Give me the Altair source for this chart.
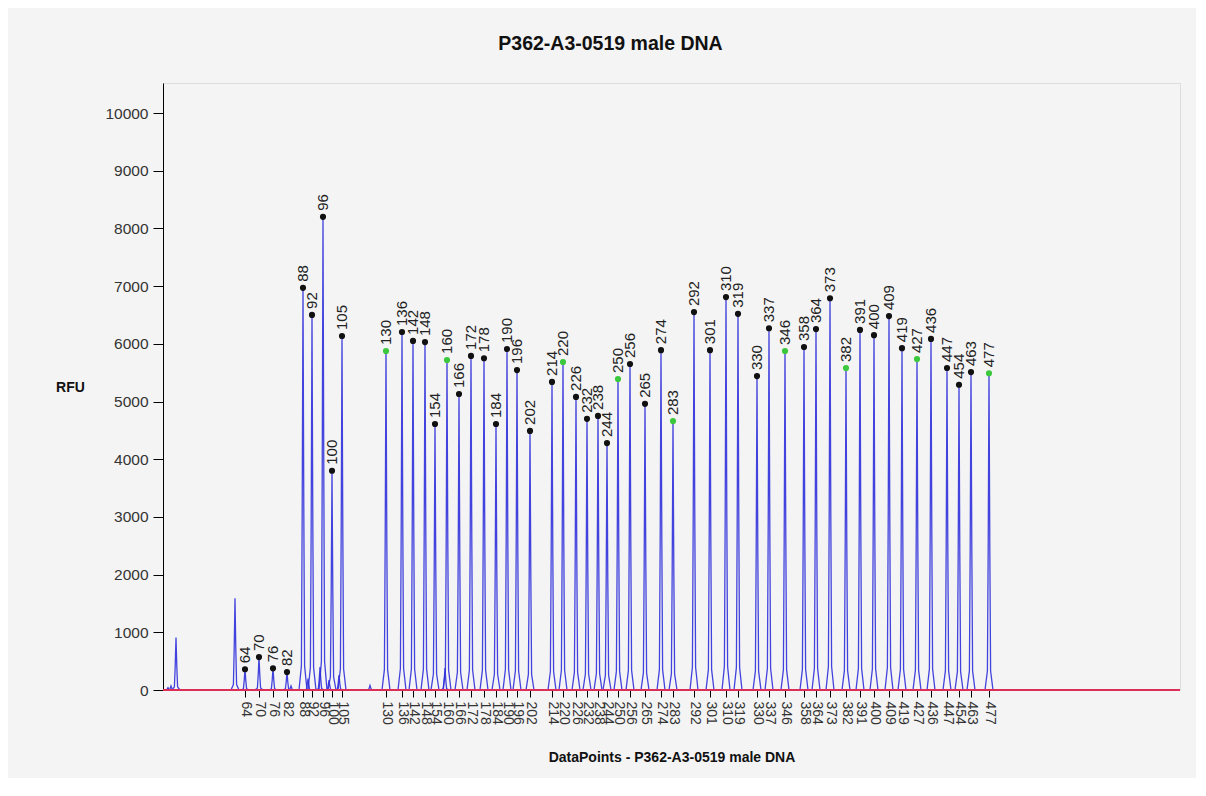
import altair as alt
import pandas as pd

# ---- data ----
sizes = [64, 70, 76, 82, 88, 92, 96, 100, 105, 130, 136, 142, 148, 154, 160, 166, 172, 178,
         184, 190, 196, 202, 214, 220, 226, 232, 238, 244, 250, 256, 265, 274, 283, 292,
         301, 310, 319, 330, 337, 346, 358, 364, 373, 382, 391, 400, 409, 419, 427, 436,
         447, 454, 463, 477]
peak_dp = [820, 960, 1100, 1240, 1400, 1490, 1600, 1690, 1790, 2230, 2390, 2500, 2620, 2720,
           2840, 2960, 3080, 3210, 3330, 3440, 3540, 3670, 3890, 4000, 4130, 4240, 4350, 4440,
           4550, 4670, 4820, 4980, 5100, 5310, 5470, 5630, 5750, 5940, 6060, 6220, 6410, 6530,
           6670, 6830, 6970, 7110, 7260, 7390, 7540, 7680, 7840, 7960, 8080, 8260]
peak_rfu = [360, 570, 375, 310, 6970, 6500, 8200, 3800, 6135, 5875, 6205, 6050, 6030, 4610,
            5720, 5130, 5790, 5750, 4610, 5910, 5545, 4490, 5340, 5685, 5080, 4700, 4750, 4280,
            5390, 5650, 4960, 5890, 4660, 6550, 5890, 6810, 6520, 5440, 6270, 5875, 5945, 6255,
            6790, 5580, 6240, 6150, 6480, 5925, 5735, 6085, 5580, 5290, 5510, 5490]
green_sizes = [130, 160, 220, 250, 283, 346, 382, 427, 477]

# unlabelled minor peaks of the trace
minor_dp = [50, 80, 130, 720, 1280, 1450, 1570, 1660, 1760, 2070, 2820]
minor_rfu = [40, 70, 910, 1590, 70, 200, 400, 170, 260, 80, 380]

# shape of one peak (offset in data points, fraction of apex height)
profile_dx = [-40, -16, -8, 0, 8, 16, 40]
profile_frac = [0, 0.06, 0.45, 1, 0.45, 0.06, 0]

x_max = 10170
y_max = 10520
y_ticks = list(range(0, 10001, 1000))

# ---- tables ----
rows = []
pid = 0
for x, h in list(zip(peak_dp, peak_rfu)) + list(zip(minor_dp, minor_rfu)):
    for i, (dx, f) in enumerate(zip(profile_dx, profile_frac)):
        rows.append({"pid": pid, "i": i, "dp": x + dx, "rfu": h * f})
    pid += 1
trace = pd.DataFrame(rows)

peaks = pd.DataFrame({
    "size": [str(s) for s in sizes],
    "dp": peak_dp,
    "rfu": peak_rfu,
    "flag": ["green" if s in green_sizes else "black" for s in sizes],
})

label_expr = "[{}][indexof([{}], datum.value)]".format(
    ",".join("'%d'" % s for s in sizes), ",".join(str(v) for v in peak_dp))

xscale = alt.Scale(domain=[0, x_max], nice=False, zero=False)
yscale = alt.Scale(domain=[0, y_max], nice=False)

FONT = "Liberation Sans"

x_axis = alt.Axis(
    values=peak_dp, tickCount=200, labelExpr=label_expr, labelAngle=90, labelAlign="left",
    labelBaseline="middle", labelFontSize=14, labelColor="#333333", labelPadding=4,
    labelOverlap=False, labelFlush=False, tickSize=7, tickColor="#000000", domain=False,
    grid=False, title="DataPoints - P362-A3-0519 male DNA", titleFontSize=14,
    titleFontWeight="bold", titleColor="#111111", titlePadding=26,
)
y_axis = alt.Axis(
    values=y_ticks, format="d", labelFontSize=15.5, labelColor="#333333", labelPadding=5,
    tickSize=10, tickColor="#000000", domainColor="#000000", grid=False, title="RFU",
    titleAngle=0, titleAlign="center", titleBaseline="middle", titleX=-93, titleY=304,
    titleFontSize=14, titleFontWeight="bold", titleColor="#111111",
)

line = alt.Chart(trace).mark_line(color="#2f2fdc", strokeWidth=1.3, opacity=0.9).encode(
    x=alt.X("dp:Q", scale=xscale, axis=x_axis),
    y=alt.Y("rfu:Q", scale=yscale, axis=y_axis),
    detail="pid:N",
    order="i:Q",
)

baseline = alt.Chart(peaks).mark_rule(color="#dc2f5a", strokeWidth=1.6).encode(
    y=alt.datum(0, scale=yscale),
)

dots = alt.Chart(peaks).mark_circle(size=38, opacity=1).encode(
    x=alt.X("dp:Q", scale=xscale, axis=x_axis),
    y=alt.Y("rfu:Q", scale=yscale, axis=y_axis),
    color=alt.Color("flag:N", scale=alt.Scale(domain=["black", "green"],
                                              range=["#111111", "#3cc83c"]), legend=None),
)

labels = alt.Chart(peaks).mark_text(
    angle=270, align="left", baseline="middle", dx=6, fontSize=15, color="#222222", font=FONT,
).encode(
    x=alt.X("dp:Q", scale=xscale, axis=x_axis),
    y=alt.Y("rfu:Q", scale=yscale, axis=y_axis),
    text="size:N",
)

chart = alt.layer(line, baseline, dots, labels).properties(
    width=1017, height=607,
    autosize=alt.AutoSizeParams(type="none"),
    padding={"left": 155, "top": 75, "right": 16, "bottom": 88},
    background="#f4f4f4",
    title=alt.TitleParams("P362-A3-0519 male DNA", fontSize=19.5, fontWeight="bold",
                          color="#111111", font=FONT, anchor="middle", dx=-61,
                          baseline="bottom", offset=10),
).configure_view(fill="white", stroke=None).configure(font=FONT)

chart.save("out.html", embed_options={"renderer": "svg", "actions": False})
